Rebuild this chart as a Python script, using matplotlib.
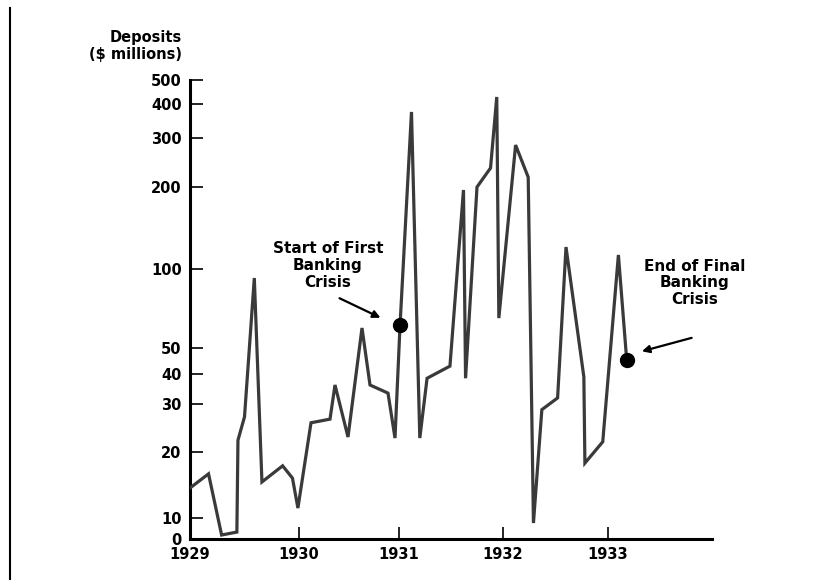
import numpy as np
import matplotlib
matplotlib.use("Agg")
import matplotlib.pyplot as plt
from matplotlib.lines import Line2D

# deposits of suspended banks
years = [1929.00, 1929.17, 1929.29, 1929.43, 1929.44, 1929.50, 1929.59, 1929.66,
         1929.85, 1929.94, 1929.99, 1930.12, 1930.31, 1930.36, 1930.49, 1930.63,
         1930.71, 1930.89, 1930.96, 1931.01, 1931.12, 1931.20, 1931.27, 1931.49,
         1931.62, 1931.64, 1931.75, 1931.88, 1931.94, 1931.96, 1932.12, 1932.24,
         1932.29, 1932.37, 1932.52, 1932.60, 1932.77, 1932.78, 1932.95, 1933.10,
         1933.18]
deposits = [13.7, 15.9, 1.9, 3.3, 22.1, 26.9, 92.4, 14.6,
            17.3, 15.2, 11.1, 25.6, 26.4, 36.0, 22.7, 59.6,
            36.0, 33.3, 22.5, 61.1, 374, 22.5, 38.4, 42.8,
            195, 38.4, 200, 234, 427, 65, 283, 217,
            7.6, 28.6, 31.8, 120.4, 38.9, 17.8, 21.8, 112.6,
            45.0]

crisis_years = [1931.01, 1933.18]
crisis_deposits = [61.1, 45.0]

year_ticks = [1929, 1930, 1931, 1932, 1933]
dep_ticks = [0, 10, 20, 30, 40, 50, 100, 200, 300, 400, 500]

# the printed axes are hand drawn: pixel offset of each tick from the origin
Y_TICK_PX = [0, 21, 87, 135, 165, 191, 270, 352, 401, 435, 459]
X_TICK_PX = [0, 109, 209, 313, 418, 522]
X_TICK_YR = [1929, 1930, 1931, 1932, 1933, 1934]


def _t(v):
    v = np.maximum(np.asarray(v, dtype=float), 0.0)
    return np.where(v >= 10, np.log10(np.maximum(v, 10)), v / 10.0)


T_TICKS = _t(dep_ticks)


def y_fwd(v):
    return np.interp(_t(v), T_TICKS, Y_TICK_PX)


def y_inv(h):
    t = np.interp(np.asarray(h, dtype=float), Y_TICK_PX, T_TICKS)
    return np.where(t >= 1, 10 ** np.maximum(t, 1), 10 * t)


def x_fwd(x):
    return np.interp(np.asarray(x, dtype=float), X_TICK_YR, X_TICK_PX)


def x_inv(p):
    return np.interp(np.asarray(p, dtype=float), X_TICK_PX, X_TICK_YR)


plt.rcParams["font.family"] = ["DejaVu Sans"]
plt.rcParams["font.weight"] = "bold"

fig = plt.figure(figsize=(8.3, 5.8), dpi=100)
ax = fig.add_axes([190 / 830, 41 / 580, 522 / 830, 459 / 580])

ax.set_xscale("function", functions=(x_fwd, x_inv))
ax.set_yscale("function", functions=(y_fwd, y_inv))

ax.plot(years, deposits, color="#3a3a3a", lw=2.3, solid_joinstyle="miter", zorder=3)
ax.plot(crisis_years, crisis_deposits, "o", color="black", ms=10, zorder=4)

ax.set_xlim(1929, 1934)
ax.set_ylim(0, 500)
ax.set_xticks(year_ticks)
ax.set_xticklabels([str(y) for y in year_ticks])
ax.set_yticks(dep_ticks)
ax.set_yticklabels([str(d) for d in dep_ticks])
ax.minorticks_off()
ax.tick_params(direction="in", length=9, width=1.2, labelsize=10.5, pad=6, color="black")

for side in ["top", "right"]:
    ax.spines[side].set_visible(False)
for side in ["left", "bottom"]:
    ax.spines[side].set_linewidth(2.2)

fig.text(182 / 830, 1 - 46 / 580, "Deposits\n($ millions)", ha="right", va="center",
         multialignment="right", fontsize=10.5, fontweight="bold")

# annotations
ax.text(1930.29, 103, "Start of First\nBanking\nCrisis", ha="center", va="center",
        fontsize=11, fontweight="bold", linespacing=1.15)
ax.annotate("", xy=(1930.84, 64.5), xytext=(1930.38, 78.2),
            arrowprops=dict(arrowstyle="-|>", color="black", lw=1.6, mutation_scale=11))

ax.text(1933.83, 88.5, "End of Final\nBanking\nCrisis", ha="center", va="center",
        fontsize=11, fontweight="bold", linespacing=1.15)
ax.annotate("", xy=(1933.30, 48.3), xytext=(1933.83, 55.0),
            arrowprops=dict(arrowstyle="-|>", color="black", lw=1.6, mutation_scale=11))

# page edge from the scan
fig.add_artist(Line2D([10 / 830, 10 / 830], [0, 1 - 8 / 580], color="black", lw=1.5))

fig.savefig("out.png", dpi=100)
